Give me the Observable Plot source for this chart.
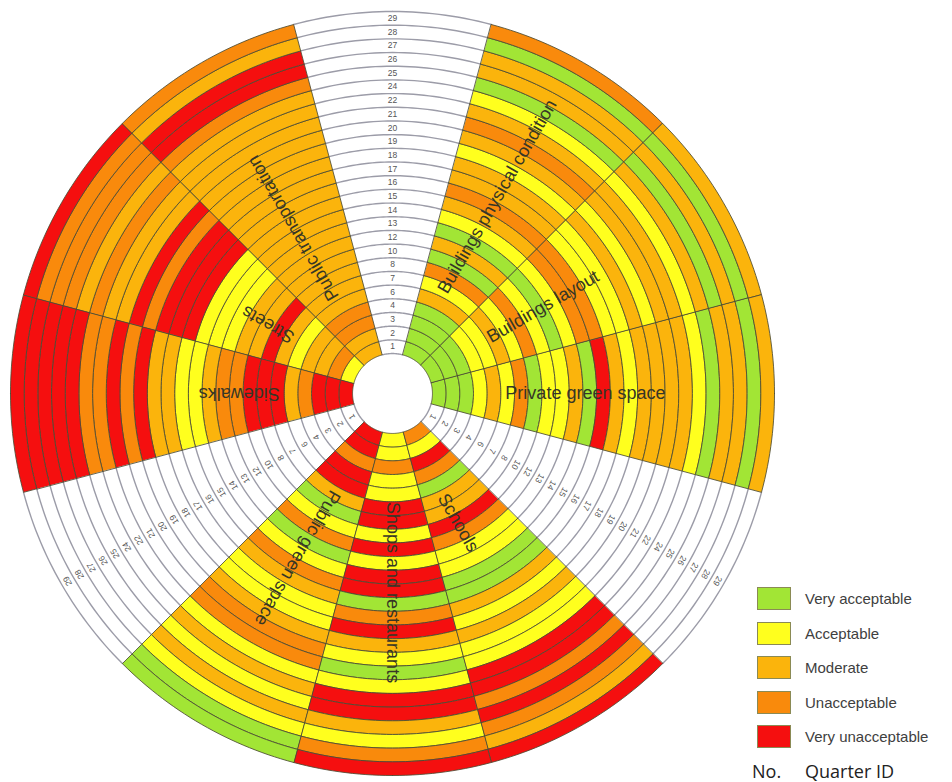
<!DOCTYPE html>
<html><head><meta charset="utf-8">
<script src="https://cdn.jsdelivr.net/npm/d3@7"></script>
<script src="https://cdn.jsdelivr.net/npm/@observablehq/plot@0.6"></script>
<style>
body{margin:0;background:#fff;font-family:"Liberation Sans",Arial,sans-serif;}
#wrap{position:relative;width:952px;height:782px;overflow:hidden;}
#chart{position:absolute;left:0;top:0;}
.sw{position:absolute;left:757px;width:32px;height:21px;border:1px solid #8a8a55;}
.lab{position:absolute;left:805px;font-size:15px;color:#404040;line-height:23px;}
.qid{position:absolute;top:759px;font-size:18px;color:#222;font-family:"Open Sans","Liberation Sans",sans-serif;}
</style></head><body>
<div id="wrap"><div id="chart"></div></div>
<script>
// ---------- data ----------
const quarterIds = [1,2,3,4,6,7,8,10,12,13,14,15,16,17,18,19,20,21,22,24,25,26,27,28,29];
const levels = ["Very acceptable","Acceptable","Moderate","Unacceptable","Very unacceptable"];
const levelColors = ["#a2e535","#ffff1e","#fbb40c","#f98a0c","#f50f0f"];
// sectors clockwise from the top; "" = empty sector holding the quarter IDs
const sectorNames = ["", "Buildings physical condition", "Buildings layout", "Private green space", "",
  "Schools", "Shops and restaurants", "Public green space", "", "Sidewalks", "Streets", "Public transportation"];
// values per quarter (inner ring = quarter 1): 1 Very acceptable ... 5 Very unacceptable
const buildingsPhysical = [1,1,1,1,3,2,4,1,3,1,2,3,4,3,3,2,3,4,3,2,1,3,3,1,4];
const buildingsLayout   = [1,1,1,2,2,3,2,4,2,1,2,4,4,2,2,3,2,3,3,2,3,1,3,1,3];
const privateGreen      = [1,1,1,2,3,2,4,1,2,2,3,1,5,3,2,3,3,3,3,2,1,3,3,1,3];
const schools           = [4,2,5,4,1,3,3,5,4,2,2,1,1,3,2,3,2,2,5,5,4,5,4,3,5];
const shops             = [2,2,4,2,2,5,5,2,5,2,5,5,1,4,5,3,2,1,2,5,5,3,2,4,5];
const publicGreen       = [5,5,4,5,5,3,1,2,4,1,2,4,3,2,2,3,4,4,2,3,2,3,2,1,1];
const sidewalks         = [5,5,5,4,3,5,5,5,4,4,3,2,2,3,3,5,4,5,4,4,5,5,5,5,5];
const streets           = [2,4,3,3,2,3,5,3,3,2,2,2,5,5,5,4,5,3,3,4,3,4,4,4,5];
const publicTransport   = [3,3,4,4,3,3,3,3,3,3,3,3,3,3,3,3,3,3,3,3,4,5,5,3,4];
const sectorValues = {
  "Buildings physical condition": buildingsPhysical, "Buildings layout": buildingsLayout,
  "Private green space": privateGreen, "Schools": schools, "Shops and restaurants": shops,
  "Public green space": publicGreen, "Sidewalks": sidewalks, "Streets": streets,
  "Public transportation": publicTransport
};

// ---------- layout ----------
const hole = 2.92;          // inner hole radius, in ring widths
const span = 360 / sectorNames.length;
const outerR = hole + quarterIds.length;
const labelR = {"Buildings physical condition": 16.3, "Buildings layout": 12.7, "Private green space": 14.1,
  "Schools": 10.6, "Shops and restaurants": 14.55, "Public green space": 13.9, "Sidewalks": 11.2,
  "Streets": 10.4, "Public transportation": 14.1};
const labelDT = {"Buildings physical condition": -2, "Schools": 3, "Streets": -1, "Public transportation": -1};

// screen angle t (deg clockwise from top) and radius r -> [lon, lat]
const pt = (t, r) => [180 - t, 90 - r];
function arcPts(t0, t1, r) { const a = []; for (let t = t0; t <= t1 + 1e-9; t += 1) a.push(pt(t, r)); return a; }

const cells = [], gapLines = [], idLabels = [], sectorLabels = [];
sectorNames.forEach((name, k) => {
  const t0 = -span / 2 + span * k, t1 = t0 + span, tm = t0 + span / 2;
  if (name === "") {
    for (let j = 0; j <= quarterIds.length; j++)
      gapLines.push({type: "LineString", coordinates: arcPts(t0, t1, hole + j)});
    quarterIds.forEach((q, i) => {
      const [lon, lat] = pt(tm, hole + i + 0.5);
      idLabels.push({lon, lat, text: String(q), rotate: tm});
    });
  } else {
    sectorValues[name].forEach((v, i) => {
      const outer = arcPts(t0, t1, hole + i + 1), inner = arcPts(t0, t1, hole + i).reverse();
      cells.push({sector: name, quarter: quarterIds[i], level: levels[v - 1],
        geometry: {type: "Polygon", coordinates: [[...outer, ...inner, outer[0]]]}});
    });
    const [lon, lat] = pt(tm + (labelDT[name] || 0), labelR[name]);
    sectorLabels.push({lon, lat, text: name, rotate: tm - 90});
  }
});

const chart = Plot.plot({
  width: 784, height: 782,
  marginTop: 11, marginBottom: 7, marginLeft: 10, marginRight: 10,
  style: {fontFamily: "'Liberation Sans', Arial, sans-serif", background: "white"},
  projection: {type: "azimuthal-equidistant", rotate: [0, -90],
    domain: d3.geoCircle().center([0, 90]).radius(outerR).precision(1)()},
  color: {domain: levels, range: levelColors},
  marks: [
    Plot.geo(gapLines, {stroke: "#9c9ca8", strokeWidth: 1.4, fill: "none"}),
    Plot.geo(cells, {geometry: "geometry", fill: "level", stroke: "#4c4c34", strokeWidth: 0.85}),
    Plot.text(idLabels, {x: "lon", y: "lat", text: "text", rotate: "rotate", fontSize: 8.5, fill: "#555"}),
    Plot.text(sectorLabels, {x: "lon", y: "lat", text: "text", rotate: "rotate", fontSize: 18, fill: "#363626"})
  ]
});
document.getElementById("chart").appendChild(chart);

// ---------- legend ----------
const wrap = document.getElementById("wrap");
levels.forEach((lv, i) => {
  const top = 587 + 34.6 * i;
  const sw = document.createElement("div");
  sw.className = "sw"; sw.style.top = top + "px"; sw.style.background = levelColors[i];
  const lb = document.createElement("div");
  lb.className = "lab"; lb.style.top = top + "px"; lb.textContent = lv;
  wrap.appendChild(sw); wrap.appendChild(lb);
});
const no = document.createElement("div"); no.className = "qid"; no.style.left = "752px"; no.textContent = "No.";
const qi = document.createElement("div"); qi.className = "qid"; qi.style.left = "805px"; qi.textContent = "Quarter ID";
wrap.appendChild(no); wrap.appendChild(qi);
</script>
</body></html>
